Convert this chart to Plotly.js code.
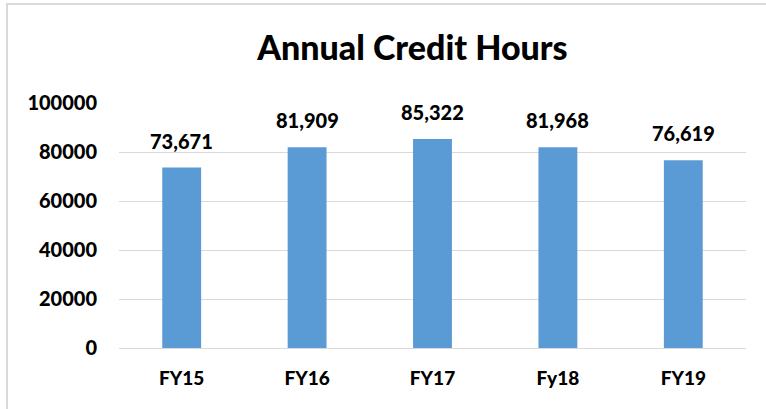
<!DOCTYPE html>
<html>
<head>
<meta charset="utf-8">
<script src="https://cdn.plot.ly/plotly-3.0.1.min.js"></script>
<style>
html,body{margin:0;padding:0;background:#fff;overflow:hidden;}
#wrap{position:relative;width:766px;height:409px;overflow:hidden;}
#frame{position:absolute;left:6px;top:3px;width:800px;height:450px;border-top:2px solid #d9d9d9;border-left:2px solid #d9d9d9;pointer-events:none;}
#chart{position:absolute;left:0;top:0;width:766px;height:409px;}
</style>
</head>
<body>
<div id="wrap"><div id="chart"></div><div id="frame"></div></div>
<script>
const categories = ["FY15", "FY16", "FY17", "Fy18", "FY19"];
const creditHours = [73671, 81909, 85322, 81968, 76619];
const yTicks = [0, 20000, 40000, 60000, 80000, 100000];
const chartTitle = "Annual Credit Hours";

const fontFamily = "Lato, 'Liberation Sans', sans-serif";
const W = 900;

const trace = {
  type: "bar",
  x: categories,
  y: creditHours,
  marker: {color: "#5B9BD5"},
  hoverinfo: "skip"
};

const annotations = categories.map((c, i) => ({
  x: c, y: creditHours[i], xref: "x", yref: "y",
  text: creditHours[i].toLocaleString("en-US"),
  showarrow: false, yanchor: "bottom", yshift: 13,
  font: {family: fontFamily, size: 20, color: "#000", weight: W}
}));

const layout = {
  width: 766, height: 409,
  margin: {l: 119, r: 20, t: 103, b: 61},
  paper_bgcolor: "rgba(0,0,0,0)",
  plot_bgcolor: "#fff",
  bargap: 0.69,
  showlegend: false,
  title: {
    text: chartTitle,
    font: {family: fontFamily, size: 34, color: "#000", weight: W},
    xref: "paper", x: 0.468, xanchor: "center",
    yref: "container", y: 0.883, yanchor: "middle"
  },
  xaxis: {
    type: "category",
    showgrid: false, zeroline: false,
    showline: true, linecolor: "#d9d9d9", linewidth: 1,
    ticks: "", ticklabelstandoff: 13,
    tickfont: {family: fontFamily, size: 19, color: "#000", weight: W}
  },
  yaxis: {
    range: [0, 100000],
    tickvals: yTicks,
    ticktext: yTicks.map(v => String(v)),
    showgrid: true, gridcolor: "#d9d9d9", gridwidth: 1,
    zeroline: true, zerolinecolor: "#d9d9d9", zerolinewidth: 1,
    showline: false, ticks: "", ticklabelstandoff: 21,
    tickfont: {family: fontFamily, size: 20, color: "#000", weight: W}
  },
  annotations: annotations
};

Plotly.newPlot("chart", [trace], layout, {staticPlot: true, displayModeBar: false});
</script>
</body>
</html>
